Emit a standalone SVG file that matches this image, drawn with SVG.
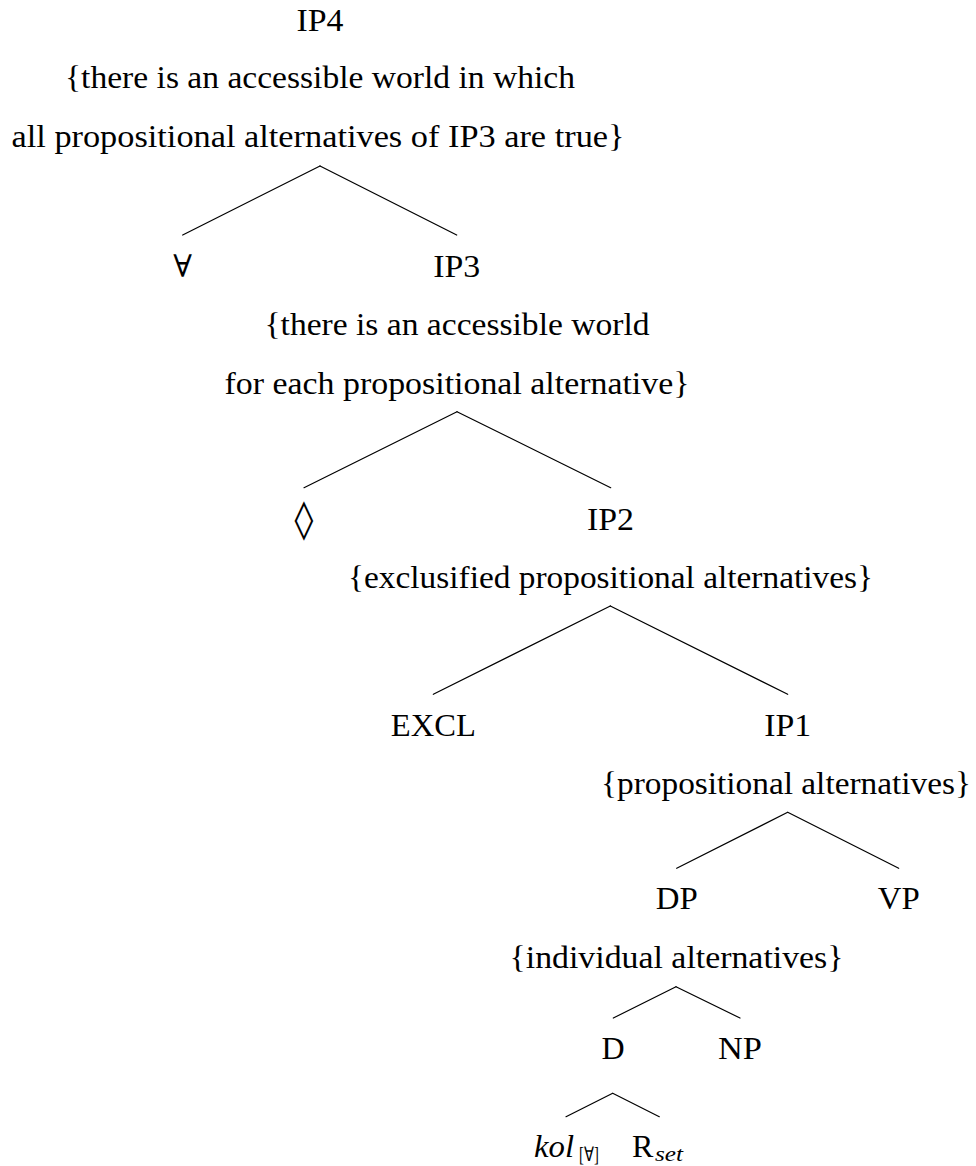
<svg xmlns="http://www.w3.org/2000/svg" width="976" height="1166" viewBox="0 0 976 1166">
<style>
text{font-family:"Liberation Serif","Times New Roman",serif;font-size:32px;fill:#000;text-anchor:middle}
.st{text-anchor:start}
.sub{font-size:20px;text-anchor:start}
.it{font-style:italic}
.fa{font-family:"DejaVu Serif",serif;font-size:31px}
.lz{font-family:"DejaVu Serif",serif;font-size:38px}
line{stroke:#000;stroke-width:1.2;stroke-linecap:round}
</style>
<rect width="976" height="1166" fill="#fff"/>
<g id="connectors">
<line x1="320" y1="166" x2="182.7" y2="235"/>
<line x1="320" y1="166" x2="456.7" y2="235"/>
<line x1="457" y1="411.7" x2="304" y2="487.7"/>
<line x1="457" y1="411.7" x2="610.7" y2="487.7"/>
<line x1="610.3" y1="606" x2="433.3" y2="694.3"/>
<line x1="610.3" y1="606" x2="787.7" y2="694.3"/>
<line x1="787.7" y1="812.3" x2="676.7" y2="868.3"/>
<line x1="787.7" y1="812.3" x2="898.7" y2="868.3"/>
<line x1="676" y1="986.7" x2="613.3" y2="1018"/>
<line x1="676" y1="986.7" x2="740" y2="1018"/>
<line x1="612.7" y1="1093.3" x2="566" y2="1116.7"/>
<line x1="612.7" y1="1093.3" x2="659.3" y2="1116.7"/>
</g>
<g id="IP4">
<text x="320" y="31" textLength="47" lengthAdjust="spacingAndGlyphs">IP4</text>
<text x="320" y="88" textLength="510" lengthAdjust="spacingAndGlyphs">{there is an accessible world in which</text>
<text x="318" y="147" textLength="613" lengthAdjust="spacingAndGlyphs">all propositional alternatives of IP3 are true}</text>
</g>
<g id="forall">
<text class="fa" x="182.7" y="277">∀</text>
</g>
<g id="IP3">
<text x="456.7" y="276.5" textLength="47" lengthAdjust="spacingAndGlyphs">IP3</text>
<text x="457" y="335" textLength="385" lengthAdjust="spacingAndGlyphs">{there is an accessible world</text>
<text x="457" y="393.5" textLength="465" lengthAdjust="spacingAndGlyphs">for each propositional alternative}</text>
</g>
<g id="diamond">
<text class="lz" x="304" y="532">◊</text>
</g>
<g id="IP2">
<text x="610.5" y="529.5" textLength="47" lengthAdjust="spacingAndGlyphs">IP2</text>
<text x="610.5" y="588" textLength="525" lengthAdjust="spacingAndGlyphs">{exclusified propositional alternatives}</text>
</g>
<g id="EXCL">
<text x="433.3" y="735.5" textLength="85" lengthAdjust="spacingAndGlyphs">EXCL</text>
</g>
<g id="IP1">
<text x="787.7" y="735.5" textLength="47" lengthAdjust="spacingAndGlyphs">IP1</text>
<text x="786" y="794" textLength="370" lengthAdjust="spacingAndGlyphs">{propositional alternatives}</text>
</g>
<g id="DP">
<text x="676.7" y="909" textLength="42" lengthAdjust="spacingAndGlyphs">DP</text>
<text x="676.5" y="967.5" textLength="334" lengthAdjust="spacingAndGlyphs">{individual alternatives}</text>
</g>
<g id="VP">
<text x="898.7" y="909" textLength="42" lengthAdjust="spacingAndGlyphs">VP</text>
</g>
<g id="D">
<text x="613" y="1059">D</text>
</g>
<g id="NP">
<text x="740" y="1059" textLength="44" lengthAdjust="spacingAndGlyphs">NP</text>
</g>
<g id="kol">
<text class="st it" x="534" y="1157" textLength="40" lengthAdjust="spacingAndGlyphs">kol</text>
<text class="sub" x="579" y="1161" textLength="20" lengthAdjust="spacingAndGlyphs">[∀]</text>
</g>
<g id="Rset">
<text class="st" x="632" y="1157">R</text>
<text class="sub it" x="655" y="1161" textLength="28" lengthAdjust="spacingAndGlyphs">set</text>
</g>
</svg>
